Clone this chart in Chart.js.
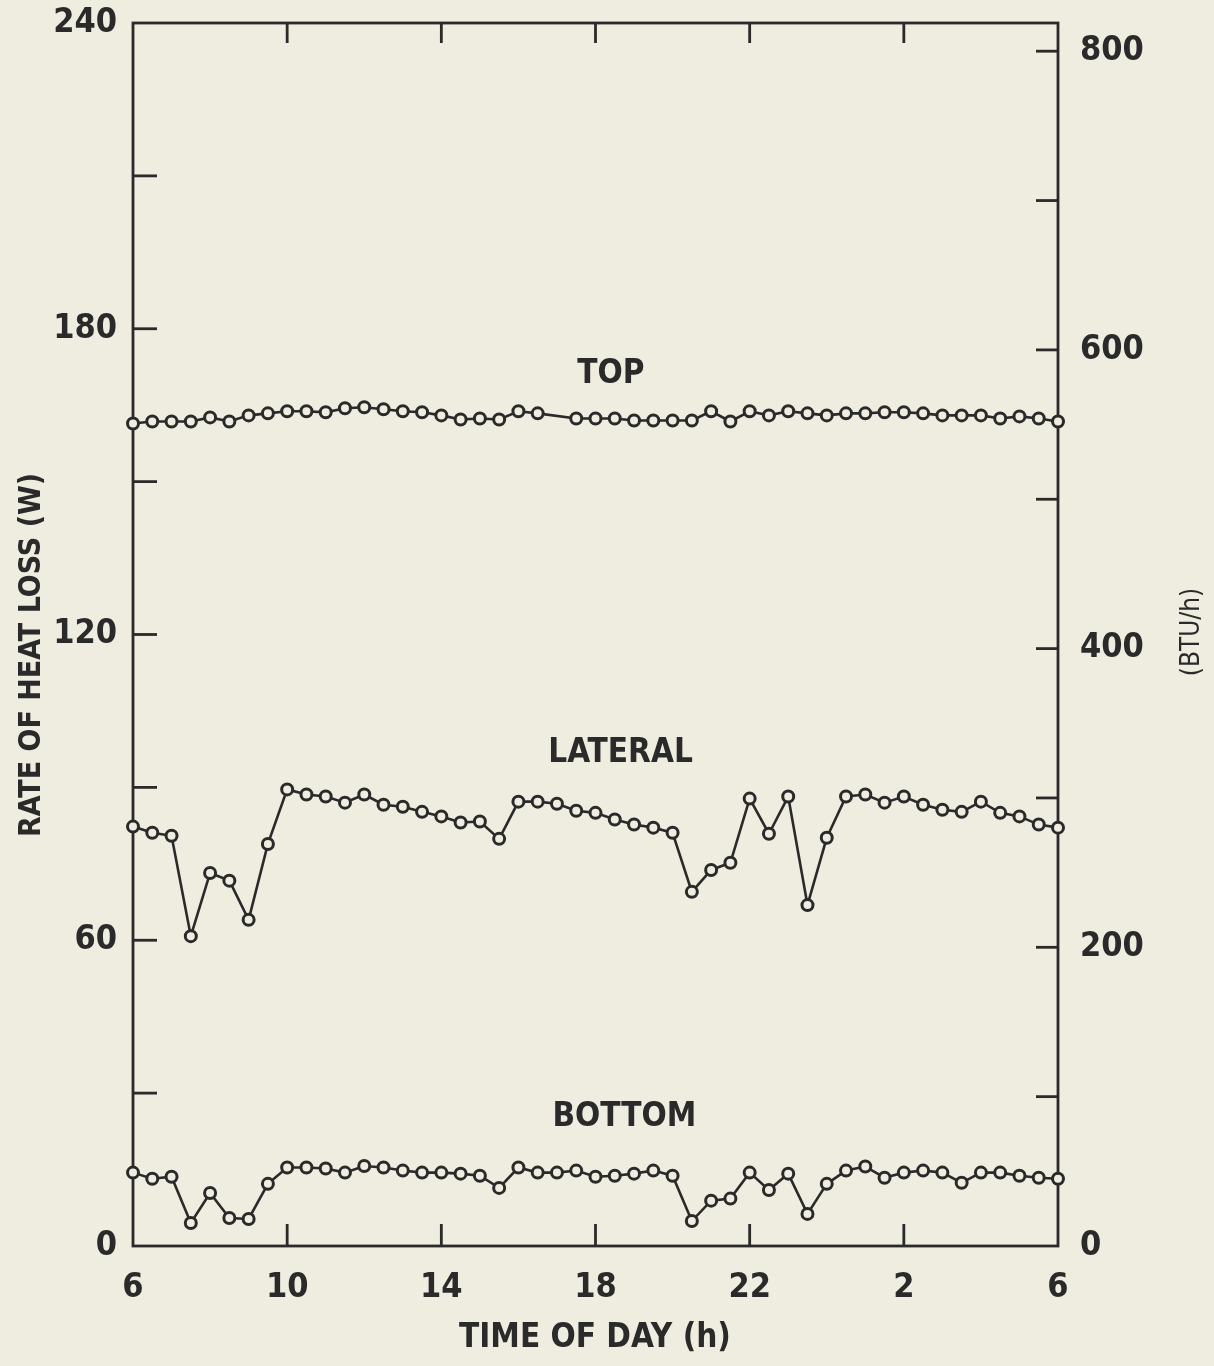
<!DOCTYPE html>
<html>
<head>
<meta charset="utf-8">
<title>Rate of heat loss</title>
<script src="https://cdn.jsdelivr.net/npm/chart.js@4.4.1/dist/chart.umd.min.js"></script>
<style>
  html, body { margin: 0; padding: 0; background: #efece0; }
  #wrap { width: 1214px; height: 1366px; }
</style>
</head>
<body>
<div id="wrap"><canvas id="heatChart" width="1214" height="1366"></canvas></div>
<script>
// hours after 06:00, half-hourly readings
const hours = [0, 0.5, 1, 1.5, 2, 2.5, 3, 3.5, 4, 4.5, 5, 5.5, 6, 6.5, 7, 7.5, 8, 8.5, 9, 9.5,
  10, 10.5, 11, 11.5, 12, 12.5, 13, 13.5, 14, 14.5, 15, 15.5, 16, 16.5, 17, 17.5, 18, 18.5, 19, 19.5,
  20, 20.5, 21, 21.5, 22, 22.5, 23, 23.5, 24];
const timeLabels = ['6', '10', '14', '18', '22', '2', '6'];

// rate of heat loss (W)
const topLoss = [161.4, 161.8, 161.8, 161.8, 162.6, 161.8, 163.0, 163.4, 163.8, 163.8,
  163.6, 164.4, 164.6, 164.2, 163.8, 163.6, 163.0, 162.2, 162.4, 162.2,
  163.8, 163.4, null, 162.4, 162.4, 162.4, 162.0, 162.0, 162.0, 162.0,
  163.8, 161.8, 163.8, 163.0, 163.8, 163.4, 163.0, 163.4, 163.4, 163.6,
  163.6, 163.4, 163.0, 163.0, 163.0, 162.4, 162.8, 162.4, 161.8];
const lateralLoss = [82.3, 81.1, 80.5, 60.8, 73.2, 71.7, 64.0, 78.9, 89.6, 88.6,
  88.2, 87.0, 88.6, 86.6, 86.2, 85.2, 84.3, 83.1, 83.3, 79.9,
  87.2, 87.2, 86.8, 85.4, 85.0, 83.7, 82.7, 82.1, 81.1, 69.5,
  73.8, 75.2, 87.8, 80.9, 88.2, 66.9, 80.1, 88.2, 88.6, 87.0,
  88.2, 86.6, 85.6, 85.2, 87.2, 85.0, 84.3, 82.7, 82.1];
const bottomLoss = [14.4, 13.2, 13.6, 4.5, 10.4, 5.5, 5.3, 12.2, 15.4, 15.4,
  15.2, 14.4, 15.7, 15.4, 14.8, 14.4, 14.4, 14.2, 13.8, 11.4,
  15.4, 14.4, 14.4, 14.8, 13.6, 13.8, 14.2, 14.8, 13.8, 4.9,
  8.9, 9.3, 14.4, 11.0, 14.2, 6.3, 12.2, 14.8, 15.6, 13.4,
  14.4, 14.8, 14.4, 12.4, 14.4, 14.4, 13.8, 13.4, 13.2];

const W_TO_BTUH = 3.412;
const W_MAX = 240;

const INK = '#2a2a2a';
const PAPER = '#efece0';
const FONT = "'DejaVu Sans Condensed', 'DejaVu Sans', sans-serif";

function series(values) {
  return {
    data: hours.map((h, i) => ({ x: h, y: values[i] })),
    borderColor: INK,
    borderWidth: 2.6,
    pointRadius: 5.5,
    pointBorderWidth: 3,
    pointBackgroundColor: PAPER,
    pointBorderColor: INK,
    tension: 0,
    spanGaps: true,
    clip: false
  };
}

// no extra room for overhanging labels, the frame sits where the layout says
function fixBox(size) {
  return s => {
    if (s.isHorizontal()) s.height = size; else s.width = size;
    s.paddingTop = 0; s.paddingBottom = 0; s.paddingLeft = 0; s.paddingRight = 0;
  };
}

// frame, inward ticks and all the free text
const decorations = {
  id: 'decorations',
  beforeDraw(chart) {
    const ctx = chart.ctx;
    ctx.save();
    ctx.fillStyle = PAPER;
    ctx.fillRect(0, 0, chart.width, chart.height);
    ctx.restore();
  },
  beforeDatasetsDraw(chart) {
    const { ctx, chartArea: a, scales: { x, y, y2 } } = chart;
    const tick = (x1, y1, x2, y2_) => {
      ctx.beginPath(); ctx.moveTo(x1, y1); ctx.lineTo(x2, y2_); ctx.stroke();
    };
    ctx.save();
    ctx.strokeStyle = INK;
    ctx.lineWidth = 2.8;
    ctx.strokeRect(a.left, a.top, a.right - a.left, a.bottom - a.top);
    y.ticks.forEach(t => {
      if (t.value <= 0 || t.value >= W_MAX) return;
      const py = y.getPixelForValue(t.value);
      tick(a.left, py, a.left + 24, py);
    });
    y2.ticks.forEach(t => {
      if (t.value <= 0 || t.value % 100 !== 0) return;
      const py = y2.getPixelForValue(t.value);
      tick(a.right - 22, py, a.right, py);
    });
    x.ticks.forEach(t => {
      if (t.value <= 0 || t.value >= 24) return;
      const px = x.getPixelForValue(t.value);
      tick(px, a.bottom, px, a.bottom - 22);
      tick(px, a.top, px, a.top + 20);
    });
    ctx.restore();
  },
  afterDraw(chart) {
    const { ctx, scales: { x, y } } = chart;
    ctx.save();
    ctx.fillStyle = INK;
    ctx.textAlign = 'center';
    ctx.textBaseline = 'middle';

    ctx.font = 'bold 33px ' + FONT;
    ctx.fillText('TOP', x.getPixelForValue(12.4), y.getPixelForValue(171));
    ctx.fillText('LATERAL', x.getPixelForValue(12.65), y.getPixelForValue(96.7));
    ctx.fillText('BOTTOM', x.getPixelForValue(12.75), y.getPixelForValue(25.3));

    ctx.font = 'bold 33px ' + FONT;
    ctx.fillText('TIME OF DAY (h)', 595, 1338);

    ctx.save();
    ctx.translate(32, 655);
    ctx.rotate(-Math.PI / 2);
    ctx.font = 'bold 30px ' + FONT;
    ctx.fillText('RATE OF HEAT LOSS (W)', 0, 0);
    ctx.restore();

    ctx.save();
    ctx.translate(1192, 632);
    ctx.rotate(-Math.PI / 2);
    ctx.font = '26px ' + FONT;
    ctx.fillText('(BTU/h)', 0, 0);
    ctx.restore();

    ctx.restore();
  }
};

const tickFont = { family: FONT, size: 34, weight: 'bold' };

new Chart(document.getElementById('heatChart'), {
  type: 'line',
  data: {
    datasets: [series(topLoss), series(lateralLoss), series(bottomLoss)]
  },
  options: {
    responsive: false,
    animation: false,
    layout: { padding: { top: 23, left: 0, right: 0, bottom: 0 } },
    plugins: {
      legend: { display: false },
      tooltip: { enabled: false }
    },
    scales: {
      x: {
        type: 'linear',
        min: 0,
        max: 24,
        grid: { display: false, drawTicks: false },
        border: { display: false },
        ticks: {
          stepSize: 4,
          font: tickFont,
          color: INK,
          padding: 22,
          maxRotation: 0,
          callback: (v, i) => timeLabels[i]
        },
        afterFit: fixBox(120)
      },
      y: {
        position: 'left',
        min: 0,
        max: W_MAX,
        grid: { display: false, drawTicks: false },
        border: { display: false },
        ticks: {
          stepSize: 30,
          font: tickFont,
          color: INK,
          padding: 16,
          callback: v => (v % 60 === 0 ? v : '')
        },
        afterFit: fixBox(133)
      },
      y2: {
        position: 'right',
        min: 0,
        max: W_MAX * W_TO_BTUH,
        grid: { display: false, drawTicks: false },
        border: { display: false },
        ticks: {
          stepSize: 100,
          includeBounds: false,
          font: tickFont,
          color: INK,
          padding: 22,
          callback: v => (v % 200 === 0 ? v : '')
        },
        afterFit: fixBox(156)
      }
    }
  },
  plugins: [decorations]
});
</script>
</body>
</html>
